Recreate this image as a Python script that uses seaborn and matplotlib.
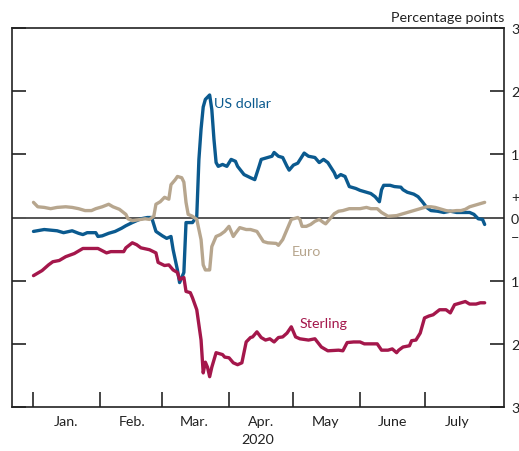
import matplotlib
matplotlib.use("Agg")
import matplotlib.pyplot as plt
import matplotlib.dates as mdates
import matplotlib.transforms as mtransforms
import pandas as pd
import seaborn as sns

# US dollar
dollar_dates = ["01-01", "01-06", "01-12", "01-15", "01-19", "01-22", "01-24", "01-26", "01-30", "01-31",
                "02-02", "02-05", "02-08", "02-11", "02-13", "02-16", "02-18", "02-20", "02-23", "02-25",
                "02-26", "02-27", "03-01", "03-03", "03-05", "03-06", "03-08", "03-09", "03-11", "03-12",
                "03-15", "03-17", "03-18", "03-19", "03-20", "03-21", "03-23", "03-24", "03-25", "03-26",
                "03-27", "03-29", "03-31", "04-02", "04-04", "04-05", "04-08", "04-11", "04-13", "04-15",
                "04-16", "04-19", "04-21", "04-22", "04-24", "04-26", "04-28", "04-29", "05-01", "05-03",
                "05-06", "05-08", "05-11", "05-13", "05-15", "05-17", "05-20", "05-21", "05-23", "05-25",
                "05-27", "05-30", "06-01", "06-03", "06-06", "06-08", "06-10", "06-11", "06-12", "06-15",
                "06-17", "06-20", "06-21", "06-23", "06-26", "06-28", "06-30", "07-02", "07-04", "07-07",
                "07-10", "07-13", "07-16", "07-19", "07-22", "07-24", "07-26", "07-28", "07-29"]
dollar_values = [-0.22, -0.19, -0.21, -0.24, -0.21, -0.25, -0.27, -0.24, -0.24, -0.30,
                 -0.29, -0.25, -0.22, -0.17, -0.13, -0.08, -0.05, -0.02, 0.00, 0.00,
                 -0.11, -0.22, -0.29, -0.33, -0.30, -0.51, -0.83, -1.03, -0.87, -0.08,
                 -0.08, 0.02, 0.92, 1.40, 1.75, 1.87, 1.94, 1.71, 1.24, 0.87,
                 0.81, 0.84, 0.81, 0.92, 0.89, 0.81, 0.68, 0.63, 0.60, 0.81,
                 0.92, 0.95, 0.97, 1.03, 0.97, 0.95, 0.81, 0.75, 0.83, 0.86,
                 1.02, 0.97, 0.95, 0.87, 0.92, 0.87, 0.71, 0.63, 0.68, 0.65,
                 0.49, 0.46, 0.43, 0.41, 0.38, 0.33, 0.25, 0.44, 0.51, 0.51,
                 0.49, 0.48, 0.44, 0.40, 0.37, 0.33, 0.25, 0.16, 0.11, 0.10,
                 0.08, 0.10, 0.08, 0.08, 0.08, 0.05, -0.02, -0.03, -0.11]

# Euro
euro_dates = ["01-01", "01-03", "01-06", "01-09", "01-12", "01-16", "01-19", "01-22", "01-25", "01-28",
              "01-30", "02-02", "02-05", "02-07", "02-10", "02-13", "02-14", "02-16", "02-20", "02-22",
              "02-24", "02-26", "02-27", "02-29", "03-02", "03-04", "03-05", "03-07", "03-08", "03-10",
              "03-11", "03-12", "03-13", "03-15", "03-17", "03-19", "03-20", "03-21", "03-22", "03-23",
              "03-24", "03-26", "03-28", "03-30", "04-01", "04-03", "04-04", "04-06", "04-09", "04-11",
              "04-14", "04-17", "04-19", "04-23", "04-24", "04-26", "04-28", "04-30", "05-03", "05-04",
              "05-05", "05-07", "05-09", "05-11", "05-13", "05-15", "05-16", "05-17", "05-20", "05-22",
              "05-24", "05-27", "05-29", "06-01", "06-04", "06-06", "06-09", "06-11", "06-14", "06-18",
              "06-21", "06-23", "06-26", "06-29", "07-02", "07-04", "07-06", "07-09", "07-11", "07-13",
              "07-16", "07-18", "07-20", "07-22", "07-24", "07-26", "07-27", "07-29"]
euro_values = [0.24, 0.17, 0.16, 0.14, 0.16, 0.17, 0.16, 0.14, 0.11, 0.11,
               0.14, 0.17, 0.21, 0.17, 0.13, 0.05, -0.02, -0.05, -0.03, -0.02,
               -0.03, 0.02, 0.21, 0.25, 0.32, 0.29, 0.52, 0.60, 0.65, 0.63,
               0.56, 0.24, 0.05, 0.02, -0.03, -0.35, -0.75, -0.83, -0.83, -0.83,
               -0.46, -0.30, -0.27, -0.22, -0.14, -0.30, -0.25, -0.16, -0.19, -0.19,
               -0.22, -0.38, -0.40, -0.41, -0.44, -0.35, -0.19, -0.03, 0.00, -0.03,
               -0.14, -0.14, -0.11, -0.06, -0.03, -0.08, -0.10, -0.06, 0.06, 0.10,
               0.11, 0.14, 0.14, 0.14, 0.16, 0.14, 0.14, 0.08, 0.02, 0.03,
               0.06, 0.08, 0.11, 0.14, 0.17, 0.17, 0.16, 0.13, 0.11, 0.10,
               0.11, 0.11, 0.13, 0.17, 0.19, 0.21, 0.22, 0.24]

# Sterling
sterling_dates = ["01-01", "01-05", "01-08", "01-10", "01-13", "01-16", "01-20", "01-24", "01-28", "01-31",
                  "02-04", "02-06", "02-09", "02-12", "02-13", "02-16", "02-18", "02-20", "02-24", "02-27",
                  "02-28", "03-02", "03-04", "03-06", "03-08", "03-09", "03-11", "03-12", "03-14", "03-15",
                  "03-17", "03-19", "03-20", "03-21", "03-22", "03-23", "03-24", "03-26", "03-29", "03-30",
                  "04-01", "04-03", "04-05", "04-07", "04-09", "04-11", "04-12", "04-14", "04-16", "04-18",
                  "04-20", "04-22", "04-24", "04-26", "04-28", "04-30", "05-02", "05-04", "05-08", "05-11",
                  "05-14", "05-17", "05-22", "05-24", "05-26", "05-29", "06-01", "06-03", "06-06", "06-09",
                  "06-11", "06-14", "06-16", "06-18", "06-19", "06-21", "06-24", "06-25", "06-27", "06-29",
                  "07-01", "07-03", "07-05", "07-08", "07-11", "07-13", "07-15", "07-18", "07-20", "07-22",
                  "07-25", "07-27", "07-29"]
sterling_values = [-0.92, -0.84, -0.75, -0.70, -0.68, -0.62, -0.57, -0.49, -0.49, -0.49,
                   -0.56, -0.54, -0.54, -0.54, -0.48, -0.40, -0.43, -0.48, -0.51, -0.56,
                   -0.71, -0.76, -0.75, -0.83, -0.87, -0.98, -0.95, -1.17, -1.19, -1.27,
                   -1.46, -1.94, -2.46, -2.29, -2.37, -2.52, -2.37, -2.14, -2.17, -2.21,
                   -2.22, -2.30, -2.33, -2.30, -1.97, -1.90, -1.89, -1.81, -1.90, -1.94,
                   -1.92, -1.97, -1.90, -1.89, -1.83, -1.73, -1.89, -1.92, -1.94, -1.92,
                   -2.05, -2.11, -2.10, -2.11, -1.98, -1.97, -1.97, -2.00, -2.00, -2.00,
                   -2.10, -2.10, -2.08, -2.14, -2.10, -2.05, -2.03, -1.95, -1.94, -1.83,
                   -1.59, -1.56, -1.54, -1.46, -1.46, -1.51, -1.38, -1.35, -1.33, -1.37,
                   -1.37, -1.35, -1.35]

months = ["Jan.", "Feb.", "Mar.", "Apr.", "May", "June", "July"]
y_ticks = [-3, -2, -1, 0, 1, 2, 3]
y_labels = ["3", "2", "1", "0", "1", "2", "3"]

colors = {"US dollar": "#0b5a8f", "Euro": "#b7a68e", "Sterling": "#a4174b"}

frames = []
for name, d, v in [("US dollar", dollar_dates, dollar_values),
                   ("Euro", euro_dates, euro_values),
                   ("Sterling", sterling_dates, sterling_values)]:
    frames.append(pd.DataFrame({"date": pd.to_datetime(["2020-" + s for s in d]),
                                "value": v, "series": name}))
df = pd.concat(frames, ignore_index=True)

sns.set_style("ticks")
plt.rcParams["font.family"] = ["Lato", "DejaVu Sans"]

fig = plt.figure(figsize=(5.19, 4.52), dpi=100)
ax = fig.add_axes([0.0231, 0.0973, 0.948, 0.8385])

ax.axhline(0, color="#555555", lw=1.4, zorder=1)
sns.lineplot(data=df, x="date", y="value", hue="series", palette=colors,
             estimator=None, sort=True, lw=2.4, legend=False, ax=ax, zorder=3)

ax.set_ylim(-3, 3)
ax.set_xlim(pd.Timestamp("2019-12-22"), pd.Timestamp("2020-08-07"))

ax.set_yticks(y_ticks)
ax.set_yticklabels(y_labels)
ax.tick_params(axis="y", which="major", left=True, right=True, labelleft=False,
               labelright=True, direction="in", length=10, width=1.2,
               labelsize=10.3, pad=5, colors="#222222")

month_starts = pd.date_range("2020-01-01", "2020-07-01", freq="MS")
ax.set_xticks(month_starts)
ax.set_xticklabels([""] * len(month_starts))
ax.set_xticks(month_starts + pd.Timedelta(days=15), minor=True)
ax.set_xticklabels(months, minor=True)
ax.tick_params(axis="x", which="major", direction="in", length=11, width=1.2, bottom=True)
ax.tick_params(axis="x", which="minor", length=0, labelsize=10.3, pad=6, colors="#222222")

for s in ax.spines.values():
    s.set_color("#222222")
    s.set_linewidth(1.2)

ax.set_xlabel("2020", fontsize=10.3, labelpad=4, color="#222222")
ax.set_ylabel("")

ax.text(1.0, 1.012, "Percentage points", transform=ax.transAxes, ha="right",
        va="bottom", fontsize=10.3, color="#222222")

trans = mtransforms.blended_transform_factory(ax.transAxes, ax.transData)
ax.text(1.014, 0.33, "+", transform=trans, va="center", fontsize=10.3, color="#222222")
ax.text(1.014, -0.30, "\u2212", transform=trans, va="center", fontsize=10.3, color="#222222")

ax.text(pd.Timestamp("2020-03-25"), 1.82, "US dollar", color=colors["US dollar"], fontsize=10.3, va="center")
ax.text(pd.Timestamp("2020-04-30"), -0.53, "Euro", color=colors["Euro"], fontsize=10.3, va="center")
ax.text(pd.Timestamp("2020-05-04"), -1.67, "Sterling", color=colors["Sterling"], fontsize=10.3, va="center")

fig.savefig("out.png", dpi=100)
